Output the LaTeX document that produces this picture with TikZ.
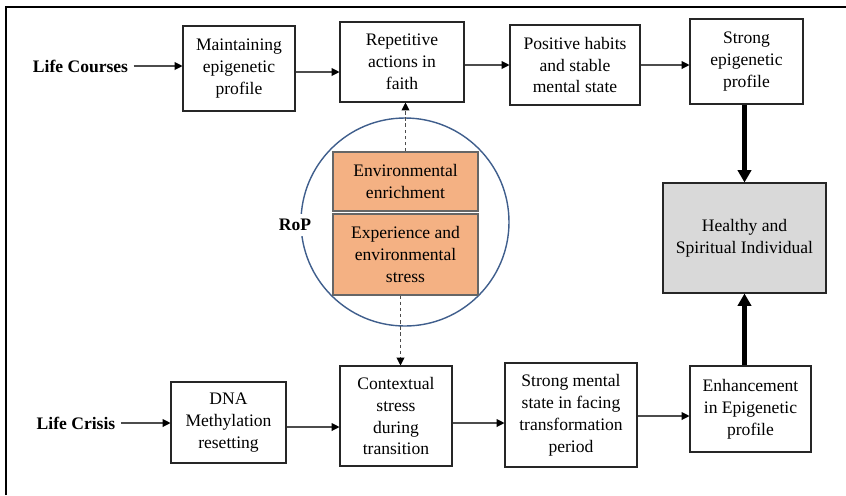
\documentclass[tikz,border=0pt]{standalone}
\usepackage{fontspec}
\setmainfont{Liberation Serif}
\usetikzlibrary{arrows.meta,positioning}
\definecolor{envorange}{HTML}{F4B183}
\definecolor{ropblue}{HTML}{3F5E8C}
\definecolor{healthgray}{HTML}{D9D9D9}

\begin{document}
\begin{tikzpicture}[x=0.02cm, y=-0.02cm,
  every node/.style={align=center, inner sep=0pt, font=\fontsize{10}{12.5}\selectfont},
  box/.style 2 args={draw=black!85, line width=0.6pt, minimum width=#1*0.02cm, minimum height=#2*0.02cm},
  envbox/.style 2 args={box={#1}{#2}, draw=black!60, fill=envorange},
  side/.style={font=\fontsize{10}{12.5}\selectfont\bfseries, inner sep=3pt},
  flow/.style={draw=black!70, line width=0.6pt, -{Triangle[length=4.5pt, width=4.5pt, color=black]}},
  infl/.style={flow, dash pattern=on 2pt off 1.5pt},
  heavy/.style={line width=2.3pt, -{Triangle[length=7pt, width=7.5pt]}}]
  \useasboundingbox (0,0) rectangle (846,495);
  \draw[line width=1.1pt] (6,495) -- (6,7) -- (846,7);

  % upper path
  \node[box={112}{85}] (maint) at (239,68.5) {Maintaining\\epigenetic\\profile};
  \node[box={124}{80}] (rep) at (402,62) {Repetitive\\actions in\\faith};
  \node[box={130}{80}] (pos) at (575,65) {Positive habits\\and stable\\mental state};
  \node[box={113}{85}] (strong) at (746.5,61.5) {Strong\\epigenetic\\profile};
  \node[side] (lc) at (80.5,66) {Life Courses};

  % outcome
  \node[box={163}{110}, fill=healthgray] (healthy) at (744.5,238) {Healthy and\\Spiritual Individual};

  % RoP circle
  \draw[ropblue, line width=0.8pt] (405,222) circle (104);
  \node[side, fill=white] (rop) at (295,225) {RoP};
  \node[envbox={145}{59}] (env) at (405.5,181.5) {Environmental\\enrichment};
  \node[envbox={145}{81}] (exp) at (405.5,254.5) {Experience and\\environmental\\stress};

  % lower path
  \node[box={115}{81}] (dna) at (228.5,422.5) {DNA\\Methylation\\resetting};
  \node[box={112}{100}] (context) at (396,416) {Contextual\\stress\\during\\transition};
  \node[box={132}{104}] (mental) at (571,415) {Strong mental\\state in facing\\transformation\\period};
  \node[box={121}{86}] (enh) at (750.5,409) {Enhancement\\in Epigenetic\\profile};
  \node[side] (lcr) at (76,423) {Life Crisis};

  \draw[flow] (lc.east) -- (lc.east -| maint.west);
  \draw[flow] ([yshift=-3.5*0.02cm]maint.east) -- ([yshift=-3.5*0.02cm]maint.east -| rep.west);
  \draw[flow] ([yshift=-3*0.02cm]rep.east) -- ([yshift=-3*0.02cm]rep.east -| pos.west);
  \draw[flow] (pos.east) -- (pos.east -| strong.west);
  \draw[heavy] (strong.south -| healthy.north) -- (healthy.north);

  \draw[infl] (env.north) -- (env.north |- rep.south);
  \draw[infl] ([xshift=-5*0.02cm]exp.south) -- ([xshift=-5*0.02cm]exp.south |- context.north);

  \draw[flow] (lcr.east) -- (lcr.east -| dna.west);
  \draw[flow] ([yshift=-4.5*0.02cm]dna.east) -- ([yshift=-4.5*0.02cm]dna.east -| context.west);
  \draw[flow] ([yshift=-7*0.02cm]context.east) -- ([yshift=-7*0.02cm]context.east -| mental.west);
  \draw[flow] ([yshift=-1*0.02cm]mental.east) -- ([yshift=-1*0.02cm]mental.east -| enh.west);
  \draw[heavy] (enh.north -| healthy.south) -- (healthy.south);
\end{tikzpicture}
\end{document}
